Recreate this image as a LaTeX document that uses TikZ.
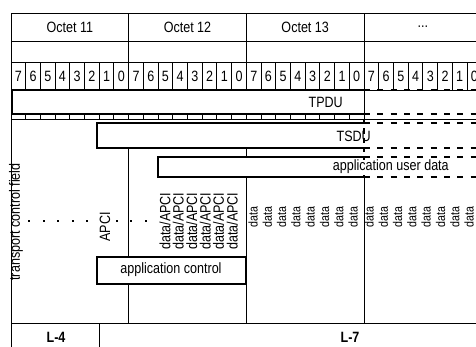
\documentclass[tikz,border=0pt]{standalone}
\usepackage{fontspec}
\setmainfont{Liberation Sans}[FakeStretch=0.84]
\usetikzlibrary{positioning}
\definecolor{rule}{RGB}{0,0,0}
\tikzset{
  lbl/.style={inner sep=0pt, font=\fontsize{11.2}{13}\selectfont},
  lbl up/.style={lbl, rotate=90},
  lbl bold/.style={lbl, font=\fontsize{11.2}{13}\selectfont\bfseries},
  gridline/.style={draw=rule, line width=0.75pt},
  boxline/.style={draw=rule, line width=0.9pt},
  openend/.style={draw=rule, line width=1.5pt, dash pattern=on 4.5pt off 5.5pt},
  cutline/.style={draw=rule, line width=1pt, dash pattern=on 4pt off 3pt},
  fieldbox/.style={boxline, fill=white},
  dotmark/.style={fill=rule, minimum size=1.5pt, inner sep=0pt},
}
\begin{document}
\begin{tikzpicture}[x=0.75pt, y=-0.75pt]
\useasboundingbox (0,0) rectangle (476,347);
\clip (0,0) rectangle (476,347);
% header rows
\foreach \yy in {13,41,62,90}
  \draw[gridline] (11,\yy) -- (480,\yy);
\draw[gridline] (11,13) -- (11,347);
% octets, bit numbers and ticks
\foreach \name/\ticks [count=\i] in {Octet 11/1, Octet 12/1, Octet 13/1, {...}/0}{
  \pgfmathsetmacro\xl{11+(\i-1)*117.7}
  \draw[gridline] (\xl,13) -- (\xl,90);
  \node[lbl] (oct\i) at (\xl+58.8,27) {\name};
  \foreach \b [count=\k from 0] in {7,6,5,4,3,2,1,0}{
    \pgfmathsetmacro\xb{\xl+\k*14.71}
    \draw[gridline] (\xb,62) -- (\xb,90);
    \ifnum\ticks=1 \draw[gridline] (\xb,114) -- (\xb,119); \fi
    \node[lbl] (bit\i\b) at (\xb+7.35,76) {\b};
  }
}
\draw[gridline] (11,119) -- (480,119);
% nested fields
\draw[boxline] (364,90) -- (12,90) -- (12,114) -- (364,114);
\draw[openend] (364,90) -- (480,90) (364,114) -- (480,114);
\draw[boxline] (364,123) -- (97,123) -- (97,148) -- (364,148);
\draw[openend] (364,123) -- (480,123) (364,148) -- (480,148);
\draw[boxline] (364,157) -- (158,157) -- (158,177) -- (364,177);
\draw[openend] (364,157) -- (480,157) (364,177) -- (480,177);
% column lines below the fields
\draw[gridline] (128,148) -- (128,323);
\draw[gridline] (246,148) -- (246,157) (246,177) -- (246,323);
\draw[gridline] (364,90) -- (364,119) (364,177) -- (364,323);
\draw[cutline] (364,119) -- (364,177);
\node[lbl, anchor=east] (tpdu) at (343,102) {TPDU};
\node[lbl, anchor=east] (tsdu) at (371,136) {TSDU};
\node[lbl, anchor=east, fill=white] (userdata) at (449,167) {application user data};
\draw[fieldbox] (97,257) rectangle (246,284);
\node[lbl] (appctrl) at (171,270) {application control};
% transport control field and APCI
\node[lbl up] (tcf) at (16,222) {transport control field};
\node[lbl up] (apci) at (105,227) {APCI};
\foreach \k in {0,...,8}{
  \ifnum\k=5 \else \node[dotmark] (dot\k) at (29+\k*14.6,221) {}; \fi
}
\foreach \xx [count=\i] in {165,178.4,191.8,205.2,218.6,232.2}
  \node[lbl up, anchor=west] (dapci\i) at (\xx,250) {data/APCI};
\foreach \k in {0,...,7}{
  \node[lbl up, anchor=west, font=\fontsize{9.5}{10}\selectfont] (data\k) at (253+\k*14.3,228) {data};
  \node[lbl up, anchor=west, font=\fontsize{9.5}{10}\selectfont] (more\k) at (369+\k*14.3,228) {data};
}
% layers
\draw[gridline] (11,323) -- (480,323);
\draw[gridline] (99,323) -- (99,347);
\node[lbl bold] (lfour) at (56,337) {L-4};
\node[lbl bold] (lseven) at (350,337) {L-7};
\end{tikzpicture}
\end{document}
